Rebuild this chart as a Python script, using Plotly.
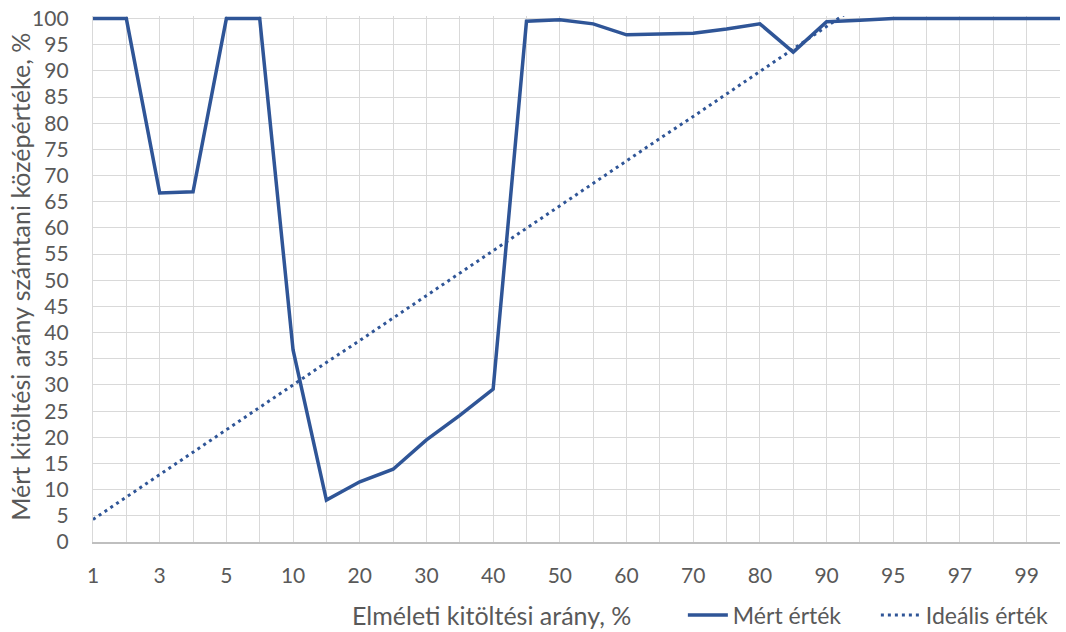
import plotly.graph_objects as go

# Theoretical fill ratio categories (%)
categories = ["1", "2", "3", "4", "5", "7", "10", "15", "20", "25", "30", "35", "40",
              "45", "50", "55", "60", "65", "70", "75", "80", "85", "90", "93",
              "95", "96", "97", "98", "99", "100"]

# Measured mean fill ratio (%)
measured = [100, 100, 66.7, 66.9, 100, 100, 36.7, 8.0, 11.5, 13.9, 19.5, 24.2, 29.2,
            99.5, 99.8, 99.0, 96.9, 97.1, 97.2, 98.0, 99.0, 93.6, 99.4, 99.7,
            100, 100, 100, 100, 100, 100]

# Ideal reference line (%), runs out of the 0-100 range after 93
ideal = [4.3, 8.6, 12.9, 17.1, 21.4, 25.7, 30.0, 34.3, 38.5, 42.8, 47.1, 51.4,
         55.7, 59.9, 64.2, 68.5, 72.8, 77.1, 81.3, 85.6, 89.9, 94.2, 98.5, 102.8,
         None, None, None, None, None, None]

y_ticks = list(range(0, 101, 5))

BLUE = "#2F5597"
TEXT = "#595959"
GRID = "#D9D9D9"
FONT = "Lato"

tick_text = [c if i % 2 == 0 else "" for i, c in enumerate(categories)]

fig = go.Figure()
fig.add_trace(go.Scatter(
    x=categories, y=measured, mode="lines", name="Mért érték",
    line=dict(color=BLUE, width=3.5),
))
fig.add_trace(go.Scatter(
    x=categories, y=ideal, mode="lines", name="Ideális érték",
    line=dict(color=BLUE, width=3, dash="3px,4px"),
    connectgaps=False,
))

fig.update_layout(
    width=1066, height=632,
    margin=dict(l=93, r=6, t=16, b=90, autoexpand=False),
    paper_bgcolor="white", plot_bgcolor="white",
    font=dict(family=FONT, color=TEXT, size=21),
    showlegend=True,
    legend=dict(
        orientation="h", x=0.61, xanchor="left", y=-0.139, yanchor="middle",
        font=dict(size=23, color=TEXT), itemwidth=40,
        entrywidth=138, entrywidthmode="pixels",
        bgcolor="rgba(0,0,0,0)",
    ),
    annotations=[
        dict(text="Elméleti kitöltési arány, %", xref="paper", yref="paper",
             x=0.412, y=-0.139, xanchor="center", yanchor="middle", showarrow=False,
             font=dict(size=25, color=TEXT)),
        dict(text="Mért kitöltési arány számtani középértéke, %", xref="paper", yref="paper",
             x=-0.075, y=0.505, xanchor="center", yanchor="middle", showarrow=False,
             textangle=-90, font=dict(size=25, color=TEXT)),
    ],
)

fig.update_xaxes(
    type="category", categoryorder="array", categoryarray=categories,
    range=[0, len(categories) - 1],
    tickmode="array", tickvals=categories, ticktext=tick_text,
    showgrid=True, gridcolor=GRID, gridwidth=1.3,
    showline=True, linecolor="#BFBFBF", linewidth=1.5,
    ticks="outside", ticklen=14, tickcolor="rgba(0,0,0,0)",
    tickfont=dict(size=21, color=TEXT),
    zeroline=False,
)
fig.update_yaxes(
    range=[0, 100.5],
    tickmode="array", tickvals=y_ticks,
    showgrid=True, gridcolor=GRID, gridwidth=1.3,
    showline=True, linecolor=GRID, linewidth=1.3,
    ticks="outside", ticklen=19, tickcolor="rgba(0,0,0,0)",
    tickfont=dict(size=21, color=TEXT),
    zeroline=False,
)

fig.write_html("out.html")
